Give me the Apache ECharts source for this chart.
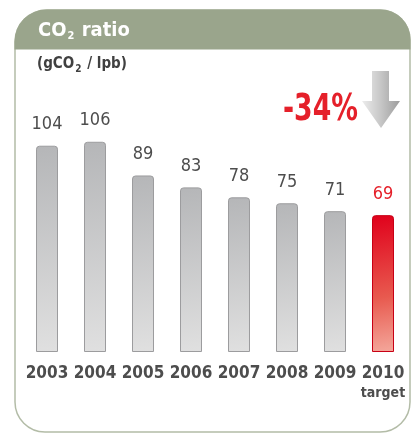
<!DOCTYPE html>
<html><head><meta charset="utf-8">
<script src="https://cdn.jsdelivr.net/npm/echarts@6/dist/echarts.min.js"></script>
<style>html,body{margin:0;padding:0;background:#fff}#c{width:412px;height:434px}</style>
</head><body><div id="c"></div>
<script>
const years = ['2003','2004','2005','2006','2007','2008','2009','2010'];
const values = [104,106,89,83,78,75,71,69];
const targetIndex = 7;
const changeText = '-34%';

const FONT = '"DejaVu Sans Condensed","Roboto",sans-serif';
const grayGrad = new echarts.graphic.LinearGradient(0,0,1,1,[{offset:0,color:'#b5b6b8'},{offset:1,color:'#e0e0e0'}]);
const redGrad = new echarts.graphic.LinearGradient(0,0,1,1,[{offset:0,color:'#e0001b'},{offset:0.6,color:'#e85a4f'},{offset:1,color:'#f4a89c'}]);

const chart = echarts.init(document.getElementById('c'), null, {renderer:'canvas'});
chart.setOption({
  animation:false,
  grid:{left:23,right:5,top:114,bottom:82},
  xAxis:{type:'category',data:years,
    axisLine:{show:false},axisTick:{show:false},
    axisLabel:{margin:12,interval:0,
      formatter:(v,i)=> i===targetIndex ? '{y|'+v+'}\n{t|target}' : '{y|'+v+'}',
      rich:{y:{fontFamily:FONT,fontSize:17,fontWeight:'bold',color:'#4d4d4d',lineHeight:20},
            t:{fontFamily:FONT,fontSize:14,fontWeight:'bold',color:'#4d4d4d',lineHeight:19}}}},
  yAxis:{type:'value',min:0,max:120,show:false,splitLine:{show:false}},
  series:[{type:'bar',barWidth:22,
    data:values.map((v,i)=>({value:v,
      itemStyle:{color:i===targetIndex?redGrad:grayGrad,borderColor:i===targetIndex?'#c80015':'#9c9c9e',borderWidth:1,borderRadius:[3,3,0,0]},
      label:{color:i===targetIndex?'#e5202a':'#4d4d4d'}})),
    label:{show:true,position:'top',distance:12,fontFamily:FONT,fontSize:18,fontWeight:'normal'}
  }],
  graphic:[
    {type:'rect',z:-1,shape:{x:15,y:10,width:395,height:422,r:[32,30,30,30]},style:{fill:'#fff',stroke:'#b3bca7',lineWidth:1.5}},
    {type:'rect',z:0,shape:{x:14.5,y:9.5,width:396,height:40,r:[32,30,0,0]},style:{fill:'#9aa58c'}},
    {type:'text',z:5,left:38,top:19,style:{
      text:'{a|CO}{s|2}{a| ratio}',fill:'#fff',
      rich:{a:{fontFamily:FONT,fontSize:20,fontWeight:'bold',fill:'#fff',lineHeight:26},
            s:{fontFamily:FONT,fontSize:11,fontWeight:'bold',fill:'#fff',padding:[12,1,0,1],lineHeight:26}}}},
    {type:'text',z:5,left:37,top:55,style:{
      text:'{a|(gCO}{s|2}{a| / lpb)}',
      rich:{a:{fontFamily:FONT,fontSize:15,fontWeight:'bold',fill:'#404040',lineHeight:18},
            s:{fontFamily:FONT,fontSize:10,fontWeight:'bold',fill:'#404040',padding:[9,1,0,1],lineHeight:18}}}},
    {type:'text',z:5,x:283,y:91,scaleX:0.78,scaleY:1,originX:0,originY:0,
      style:{text:changeText,x:0,y:0,verticalAlign:'top',align:'left',fontFamily:FONT,fontSize:38,fontWeight:'bold',fill:'#e5202a'}},
    {type:'polygon',z:5,shape:{points:[[372,71],[389,71],[389,101],[400,101],[381,128],[362,101],[372,101]]},
      style:{fill:new echarts.graphic.LinearGradient(0,0,1,0,[{offset:0,color:'#ececec'},{offset:0.5,color:'#c6c6c6'},{offset:1,color:'#9c9c9c'}])}}
  ]
});
</script></body></html>
